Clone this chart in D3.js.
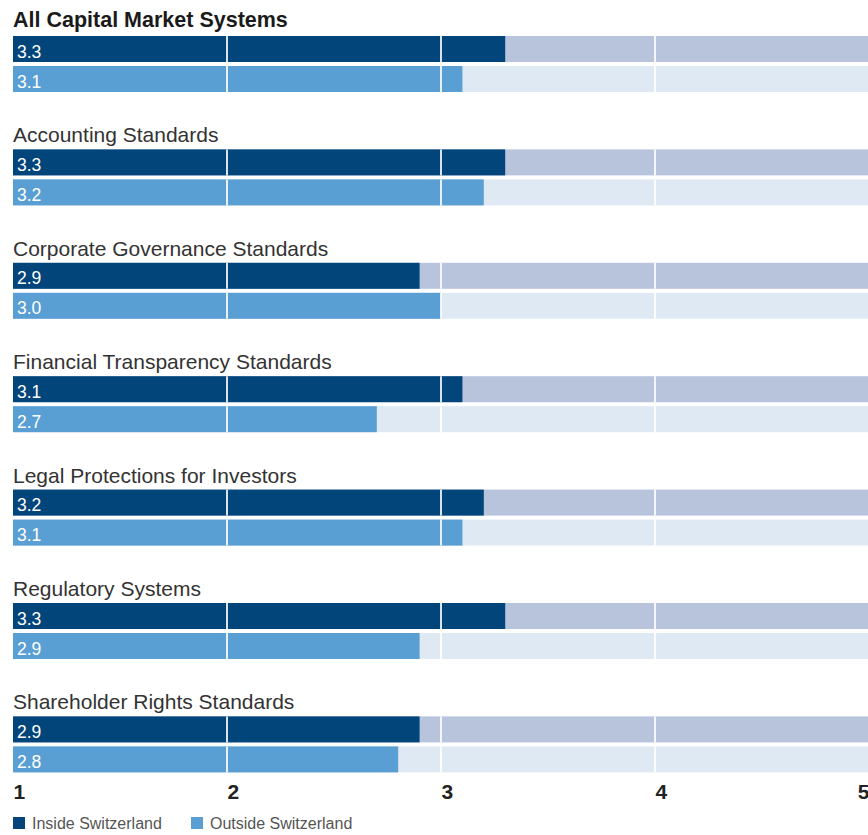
<!DOCTYPE html>
<html>
<head>
<meta charset="utf-8">
<script src="https://cdn.jsdelivr.net/npm/d3@7"></script>
<style>
  body { margin: 0; background: #fff; }
  svg text { font-family: "Liberation Sans", Arial, sans-serif; }
</style>
</head>
<body>
<div class="vis-bars"></div>
<script>
const categories = [
    'All Capital Market Systems',
    'Accounting Standards',
    'Corporate Governance Standards',
    'Financial Transparency Standards',
    'Legal Protections for Investors',
    'Regulatory Systems',
    'Shareholder Rights Standards'
];
const inside = [3.3, 3.3, 2.9, 3.1, 3.2, 3.3, 2.9];
const outside = [3.1, 3.2, 3.0, 2.7, 3.1, 2.9, 2.8];
const seriesNames = ['Inside Switzerland', 'Outside Switzerland'];
const ticks = [1, 2, 3, 4, 5];

const width = 868, height = 835;

const svg = d3.select('.vis-bars')
    .append('svg')
    .attr('width', width)
    .attr('height', height);

const x = d3.scaleLinear().domain([1, 5]).range([13, 869]);

const y = d3.scaleBand()
    .domain(categories)
    .range([36, 36 + 113.4 * categories.length])
    .padding(0);

const sub = d3.scaleBand()
    .domain(seriesNames)
    .range([0, 56])
    .paddingInner(4 / 30)
    .paddingOuter(0);

const barColor = d3.scaleOrdinal().domain(seriesNames).range(['#02457b', '#5a9fd3']);
const bgColor = d3.scaleOrdinal().domain(seriesNames).range(['#b8c4dc', '#dfe9f4']);

const rows = categories.map((c, i) => ({
    cat: c,
    bars: [
        {series: seriesNames[0], value: inside[i]},
        {series: seriesNames[1], value: outside[i]}
    ]
}));

const group = svg.selectAll('.group')
    .data(rows)
    .enter().append('g')
    .attr('class', 'group')
    .attr('transform', d => 'translate(0,' + y(d.cat) + ')');

group.append('text')
    .text(d => d.cat)
    .attr('x', 13)
    .attr('y', (d, i) => i === 0 ? -9 : -7)
    .style('font-size', (d, i) => i === 0 ? '21.5px' : '21px')
    .style('font-weight', (d, i) => i === 0 ? 'bold' : 'normal')
    .attr('fill', (d, i) => i === 0 ? '#1a1a1a' : '#333');

const bar = group.selectAll('.bar')
    .data(d => d.bars)
    .enter().append('g')
    .attr('class', 'bar')
    .attr('transform', d => 'translate(0,' + sub(d.series) + ')');

bar.append('rect')
    .attr('x', x(1))
    .attr('width', x(5) - x(1))
    .attr('height', sub.bandwidth())
    .attr('fill', d => bgColor(d.series));

bar.append('rect')
    .attr('x', x(1))
    .attr('width', d => x(d.value) - x(1))
    .attr('height', sub.bandwidth())
    .attr('fill', d => barColor(d.series));

bar.selectAll('.grid')
    .data(ticks.slice(1, -1))
    .enter().append('line')
    .attr('x1', d => x(d))
    .attr('x2', d => x(d))
    .attr('y1', 0)
    .attr('y2', sub.bandwidth())
    .attr('stroke', '#fff')
    .attr('stroke-opacity', 0.85)
    .attr('stroke-width', 2);

bar.append('text')
    .text(d => d3.format('.1f')(d.value))
    .attr('x', x(1) + 4)
    .attr('y', 21.5)
    .attr('fill', '#fff')
    .style('font-size', '17.5px');

// axis labels
const axis = svg.append('g')
    .attr('transform', 'translate(0,780)')
    .call(d3.axisBottom(x).tickValues(ticks).tickFormat(d3.format('d')).tickSize(0));
axis.select('.domain').remove();
axis.selectAll('text')
    .attr('y', 0)
    .attr('dy', '19px')
    .attr('text-anchor', (d, i) => i === ticks.length - 1 ? 'end' : 'start')
    .attr('fill', '#222')
    .style('font-size', '21px')
    .style('font-weight', 'bold')
    .style('font-family', '"Liberation Sans", Arial, sans-serif');

// legend
const legend = svg.selectAll('.legend')
    .data(seriesNames)
    .enter().append('g')
    .attr('class', 'legend')
    .attr('transform', (d, i) => 'translate(' + (13 + i * 178) + ',817)');

legend.append('rect')
    .attr('width', 12)
    .attr('height', 12)
    .attr('fill', d => barColor(d));

legend.append('text')
    .text(d => d)
    .attr('x', 19)
    .attr('y', 12)
    .attr('fill', '#555')
    .style('font-size', '16px');
</script>
</body>
</html>
